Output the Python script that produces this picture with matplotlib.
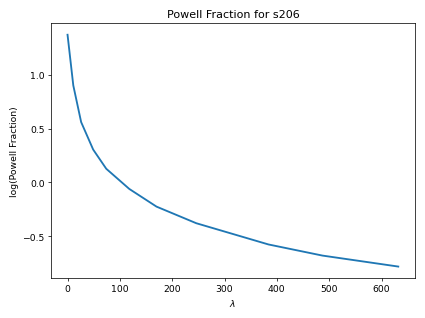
import matplotlib
matplotlib.use("Agg")
import matplotlib.pyplot as plt

# values
lambdas = [0, 11, 26, 49, 74, 118, 170, 246, 384, 487, 632]
log_fraction = [1.37, 0.90, 0.56, 0.305, 0.127, -0.06, -0.224, -0.378, -0.575, -0.678, -0.78]

if __name__ == "__main__":
    figure, axes = plt.subplots(figsize=(6.4, 4.8), dpi=425 / 6.4)
    figure.subplots_adjust(left=0.12, right=0.976, top=0.925, bottom=0.125)

    axes.plot(lambdas, log_fraction, color="#1f77b4", linewidth=2)
    axes.set_title("Powell Fraction for s206")
    axes.set_xlabel(r"$\lambda$")
    axes.set_ylabel("log(Powell Fraction)")
    axes.set_xticks([0, 100, 200, 300, 400, 500, 600])
    axes.set_yticks([-0.5, 0.0, 0.5, 1.0])

    figure.savefig("out.png")
